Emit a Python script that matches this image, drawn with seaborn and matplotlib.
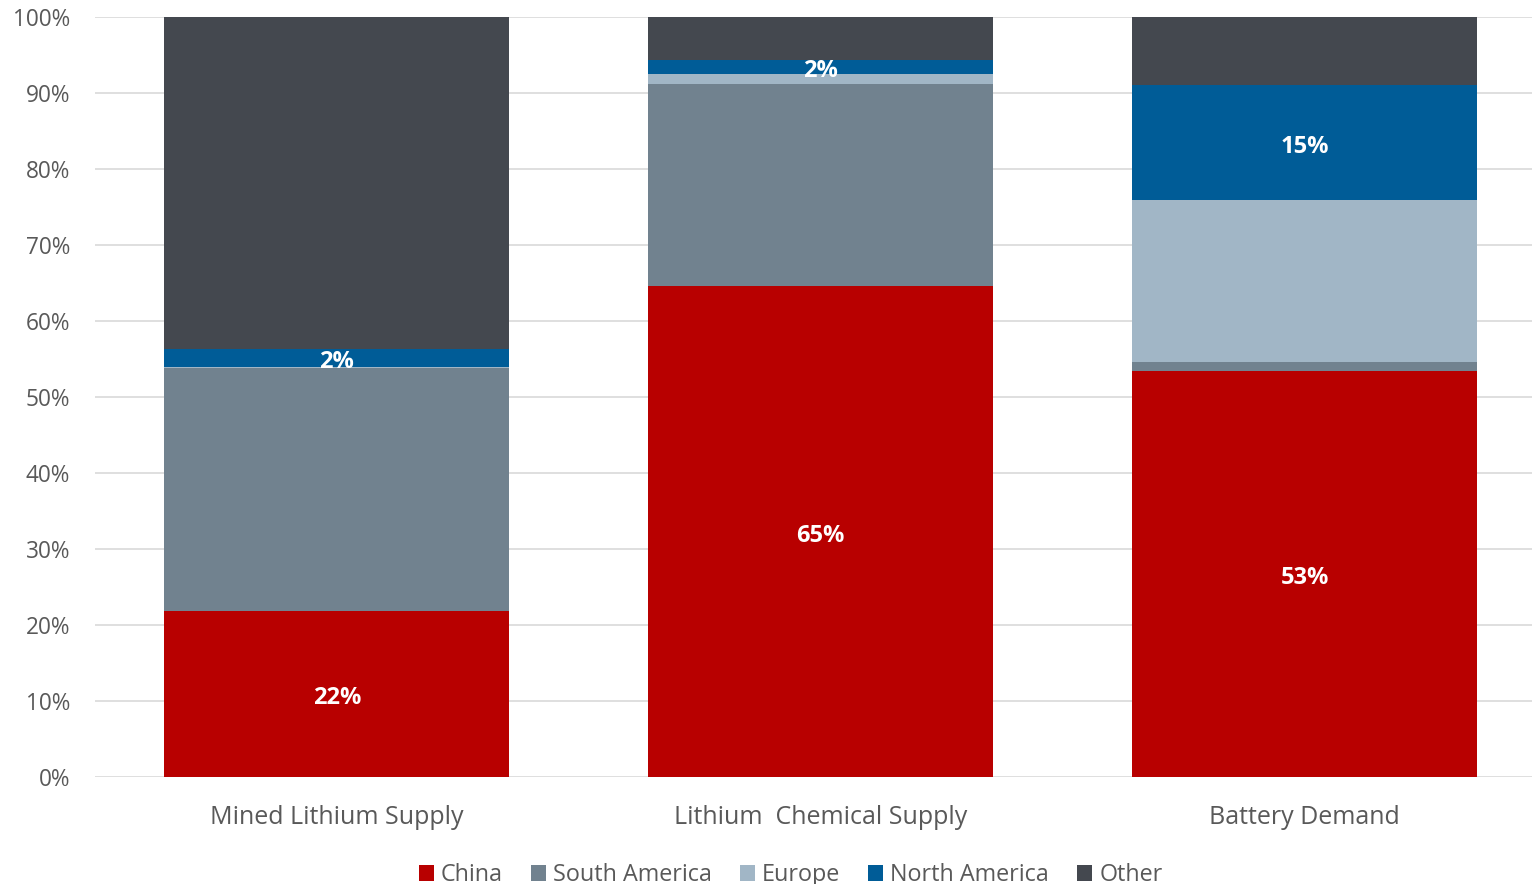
import matplotlib
matplotlib.use("Agg")
import matplotlib.pyplot as plt
import seaborn as sns
import numpy as np
import pandas as pd
from matplotlib.patches import Patch

categories = ["Mined Lithium Supply", "Lithium  Chemical Supply", "Battery Demand"]
regions = ["China", "South America", "Europe", "North America", "Other"]
china = [21.8, 64.6, 53.4]
south_america = [32.0, 26.6, 1.2]
europe = [0.2, 1.35, 21.3]
north_america = [2.3, 1.85, 15.1]
other = [43.7, 5.6, 9.0]
labelled = ["China", "North America"]

colors = {
    "China": "#B80000",
    "South America": "#71828F",
    "Europe": "#A1B6C6",
    "North America": "#005C97",
    "Other": "#44484F",
}

sns.set_theme(style="white")
plt.rcParams["font.family"] = ["Open Sans", "DejaVu Sans"]

series = [china, south_america, europe, north_america, other]
df = pd.DataFrame({r: v for r, v in zip(regions, series)}, index=categories)
cum = df.cumsum(axis=1)

fig = plt.figure(figsize=(15.32, 8.84), dpi=100)
ax = fig.add_axes([95 / 1532, 1 - 777 / 884, 1 - 95 / 1532, 760 / 884])

width = 0.713
# draw stacked bars from the tallest cumulative total down
for r in reversed(regions):
    sns.barplot(x=categories, y=cum[r].values, color=colors[r], width=width,
                saturation=1, ax=ax, linewidth=0, zorder=3)

# value labels centred in the labelled segments
for r in labelled:
    for i, c in enumerate(categories):
        top = cum.loc[c, r]
        val = df.loc[c, r]
        ax.annotate(f"{val:.0f}%", xy=(i, top - val / 2), xytext=(0, -3),
                    textcoords="offset points", ha="center", va="center",
                    color="white", fontsize=17, fontweight="bold", zorder=5)

ax.set_ylim(0, 100)
ax.set_xlim(-0.5, 2.47)
ax.set_yticks(np.arange(0, 101, 10))
ax.set_yticklabels([f"{t}%" for t in range(0, 101, 10)], fontsize=16.3, color="#595959")
ax.tick_params(axis="x", labelsize=18, colors="#595959", pad=20.5, length=0)
ax.tick_params(axis="y", pad=18, length=0)
ax.grid(axis="y", color="#D9D9D9", linewidth=1.2, zorder=0)
ax.set_axisbelow(True)
for s in ax.spines.values():
    s.set_visible(False)
ax.set_xlabel("")
ax.set_ylabel("")

handles = [Patch(facecolor=colors[r], edgecolor="none") for r in regions]
fig.legend(handles, regions, loc="center", bbox_to_anchor=(0.516, 1 - 875 / 884),
           ncol=5, frameon=False, fontsize=16.8, handlelength=0.65, handleheight=0.65,
           handletextpad=0.3, columnspacing=1.2, labelcolor="#595959")

fig.savefig("out.png", dpi=100)
